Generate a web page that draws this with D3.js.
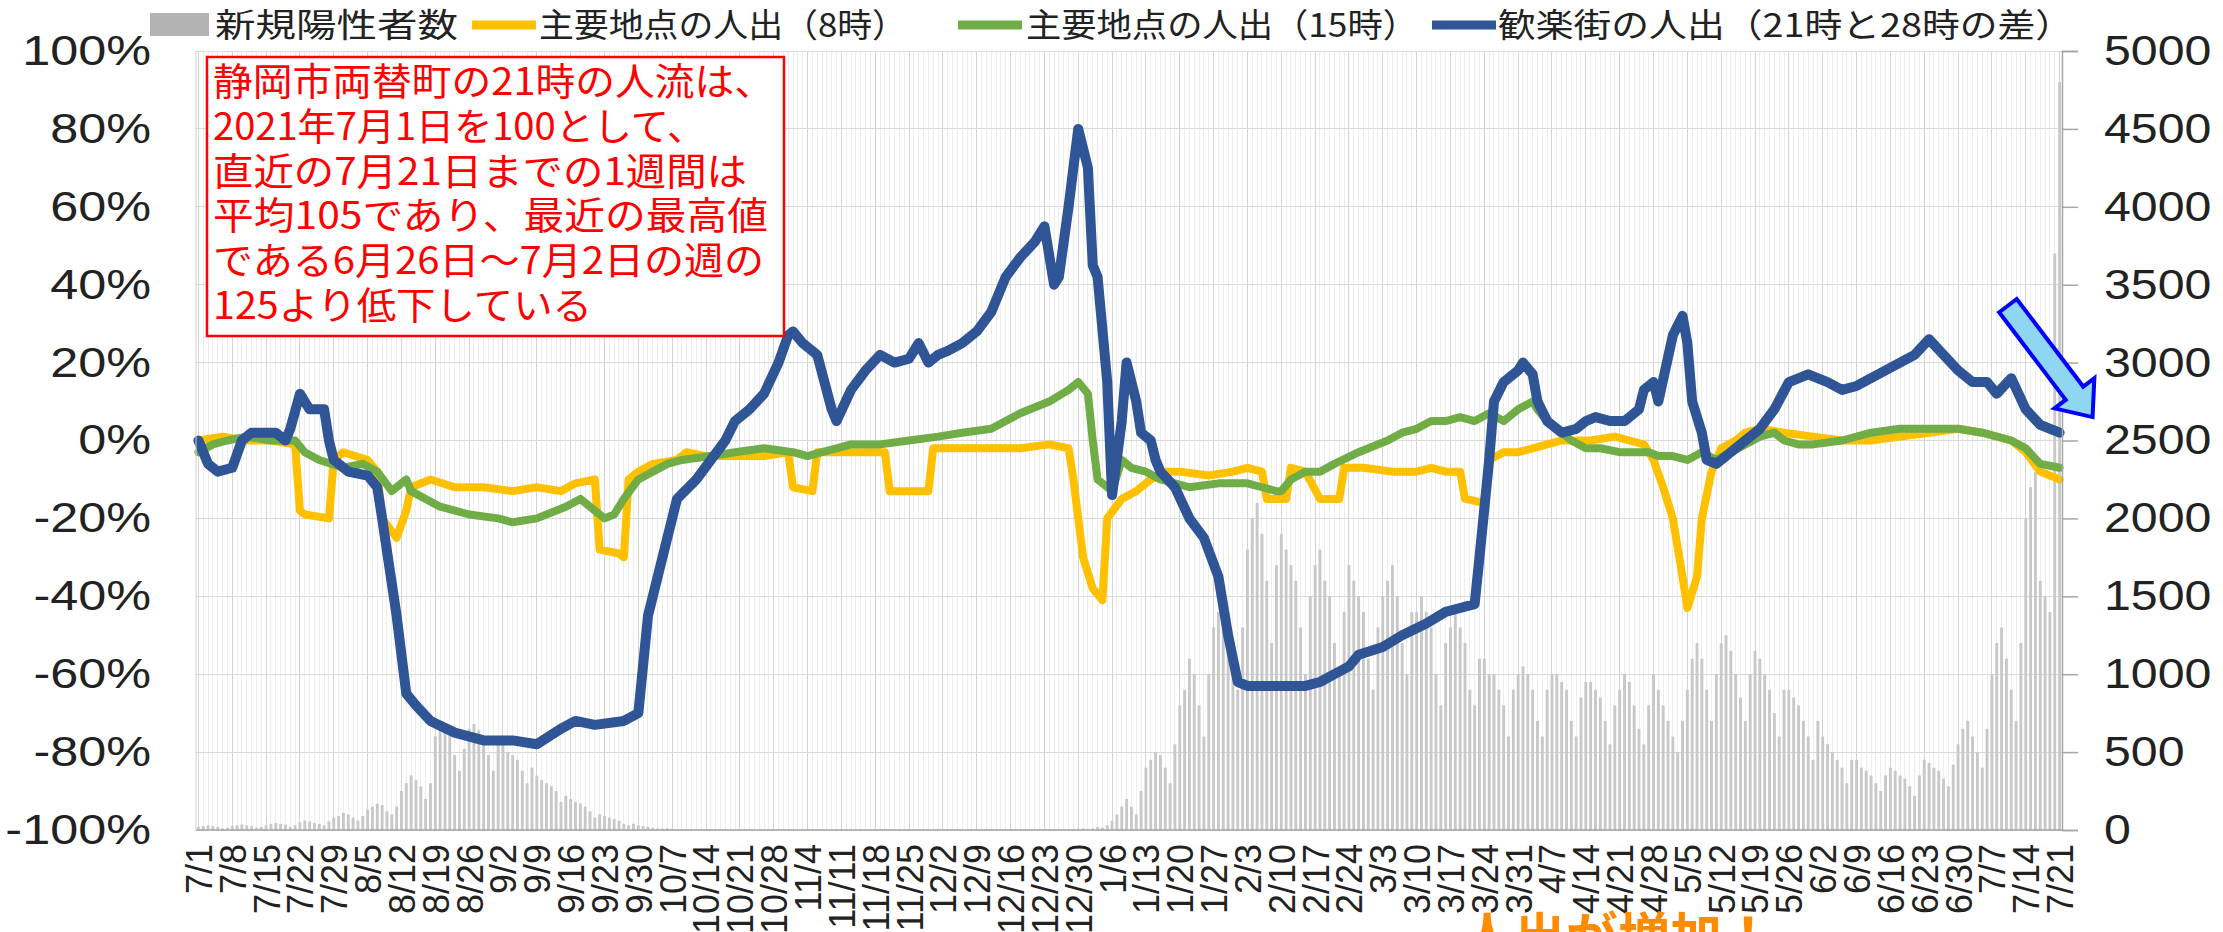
<!DOCTYPE html>
<html>
<head>
<meta charset="utf-8">
<script src="https://cdn.jsdelivr.net/npm/d3@7"></script>
<style>
  body { margin: 0; background: #fff; }
  text { font-family: "Liberation Sans", "Noto Sans CJK JP", sans-serif; }
  .jp { font-family: "Noto Sans CJK JP", sans-serif; }
</style>
</head>
<body>
<svg id="chart" width="2223" height="932"></svg>
<script>
// weekly tick labels, 7/1/2020 .. 7/21/2021
var tickLabels = ["7/1","7/8","7/15","7/22","7/29","8/5","8/12","8/19","8/26","9/2","9/9","9/16","9/23","9/30",
  "10/7","10/14","10/21","10/28","11/4","11/11","11/18","11/25","12/2","12/9","12/16","12/23","12/30",
  "1/6","1/13","1/20","1/27","2/3","2/10","2/17","2/24","3/3","3/10","3/17","3/24","3/31",
  "4/7","4/14","4/21","4/28","5/5","5/12","5/19","5/26","6/2","6/9","6/16","6/23","6/30","7/7","7/14","7/21"];

var seriesNames = ["新規陽性者数", "主要地点の人出（8時）", "主要地点の人出（15時）", "歓楽街の人出（21時と28時の差）"];

// daily new positive cases (right axis), one value per day from 7/1/2020
var cases = [
  20,25,30,25,20,10,15, 25,30,35,30,25,15,20, 30,40,45,40,35,20,30, 50,60,55,45,40,30,55,
  80,90,110,100,80,60,90, 130,150,170,160,120,100,150, 250,300,350,320,280,200,300,
  600,650,680,640,480,380,520, 650,680,640,600,480,380,560, 550,500,480,450,380,300,400,
  350,320,300,280,250,180,220, 200,180,170,150,120,80,100, 90,80,70,60,40,30,40,
  30,25,20,15,10,8,10, 8,6,6,5,4,3,5, 5,5,4,4,3,2,4, 4,5,4,3,3,2,3, 3,4,3,3,2,2,3,
  3,3,4,3,2,2,3, 4,3,3,3,2,2,3, 3,4,4,3,3,2,3, 4,4,3,3,3,2,3, 3,4,4,3,3,2,4,
  4,4,5,4,3,3,4, 5,4,5,4,3,3,5, 5,6,5,5,4,3,6, 8,10,6,10,20,15,30,
  60,100,150,200,150,100,250, 400,450,500,480,400,300,550, 800,900,1100,1000,800,600,1000,
  1300,1400,1500,1400,1100,900,1300, 1800,2000,2100,1900,1600,1200,1700,
  1900,1800,1700,1600,1300,1000,1500, 1700,1800,1600,1500,1200,1000,1400,
  1700,1600,1500,1400,1100,900,1300, 1500,1600,1700,1500,1200,1000,1400,
  1400,1500,1400,1300,1000,800,1200, 1300,1400,1300,1200,900,800,1100,
  1100,1000,1000,900,800,600,900, 1000,1050,1000,900,700,600,900,
  1000,1000,950,900,700,600,850, 950,950,900,850,700,550,800,
  900,1000,950,800,650,550,800, 1000,900,800,700,600,500,700,
  900,1100,1200,1100,900,700,1000, 1200,1250,1150,1000,850,700,1000,
  1150,1100,1000,900,750,600,900, 900,850,800,700,600,450,700,
  600,550,500,450,400,300,450, 450,400,380,350,300,250,350,
  400,380,350,330,280,220,350, 450,430,400,380,330,280,420,
  550,650,700,600,500,400,650, 1000,1200,1300,1100,900,700,1200,
  2000,2200,2300,1600,1500,1400,3700, 4800
];

// [day since 7/1/2020, %]
var line8 = [[0,0],[5,1],[10,0],[15,0],[20,-1],[21,-18],[22,-19],[27,-20],[28,-5],[30,-3],[35,-5],[37,-8],
  [38,-20],[41,-25],[43,-18],[44,-12],[48,-10],[53,-12],[59,-12],[65,-13],[70,-12],[75,-13],[78,-11],[82,-10],
  [83,-28],[87,-29],[88,-30],[89,-10],[91,-8],[94,-6],[99,-5],[101,-3],[105,-4],[111,-4],[117,-4],[122,-3],
  [123,-12],[127,-13],[128,-3],[135,-3],[142,-3],[143,-13],[151,-13],[152,-2],[158,-2],[164,-2],[170,-2],
  [176,-1],[180,-2],[181,-10],[183,-30],[185,-38],[187,-41],[188,-20],[191,-15],[194,-13],[197,-10],[200,-8],
  [203,-8],[209,-9],[214,-8],[217,-7],[220,-8],[221,-15],[225,-15],[226,-7],[229,-8],[232,-15],[236,-15],
  [237,-7],[241,-7],[247,-8],[252,-8],[255,-7],[258,-8],[261,-8],[262,-15],[266,-16],[267,-5],[270,-3],
  [273,-3],[276,-2],[279,-1],[282,0],[288,0],[293,1],[296,0],[299,-1],[301,-5],[303,-12],[305,-20],[307,-35],
  [308,-43],[310,-35],[311,-20],[313,-8],[315,-2],[318,0],[320,2],[323,3],[328,2],[334,1],[340,0],[346,0],
  [352,1],[358,2],[364,3],[369,2],[375,0],[378,-3],[381,-8],[385,-10]];

var line15 = [[0,-3],[3,-1],[6,0],[10,1],[15,0],[20,0],[22,-3],[25,-5],[30,-7],[34,-6],[37,-8],[40,-13],
  [43,-10],[44,-13],[47,-15],[50,-17],[56,-19],[62,-20],[65,-21],[70,-20],[76,-17],[79,-15],[82,-18],[84,-20],
  [86,-19],[88,-15],[91,-10],[94,-8],[97,-6],[100,-5],[106,-4],[111,-3],[117,-2],[123,-3],[126,-4],[129,-3],
  [132,-2],[135,-1],[141,-1],[147,0],[153,1],[158,2],[164,3],[167,5],[170,7],[176,10],[180,13],[182,15],
  [184,12],[185,0],[186,-10],[188,-12],[189,-13],[191,-5],[193,-7],[196,-8],[199,-10],[205,-12],[211,-11],
  [217,-11],[220,-12],[223,-13],[224,-13],[226,-10],[229,-8],[232,-8],[235,-6],[240,-3],[246,0],[249,2],
  [252,3],[255,5],[258,5],[261,6],[264,5],[267,7],[270,5],[273,8],[276,10],[277,8],[279,5],[282,2],[284,0],
  [287,-2],[290,-2],[294,-3],[297,-3],[300,-3],[302,-4],[305,-4],[308,-5],[311,-3],[314,-5],[317,-3],[320,-1],
  [323,1],[326,2],[328,0],[331,-1],[334,-1],[340,0],[346,2],[352,3],[358,3],[364,3],[369,2],[375,0],[378,-2],
  [381,-6],[385,-7]];

var line21 = [[0,0],[2,-6],[4,-8],[7,-7],[9,0],[11,2],[16,2],[18,0],[19,3],[21,12],[22,10],[23,8],[26,8],
  [27,0],[28,-5],[31,-8],[35,-9],[37,-12],[38,-20],[41,-45],[43,-65],[45,-68],[48,-72],[53,-75],[59,-77],
  [65,-77],[70,-78],[75,-74],[78,-72],[82,-73],[88,-72],[91,-70],[93,-45],[95,-35],[97,-25],[99,-15],[103,-10],
  [106,-5],[109,0],[111,5],[114,8],[117,12],[120,20],[122,27],[123,28],[125,25],[128,22],[131,8],[132,5],
  [135,13],[138,18],[141,22],[144,20],[147,21],[149,25],[151,20],[153,22],[155,23],[158,25],[161,28],[164,33],
  [167,42],[170,47],[173,51],[175,55],[177,40],[178,42],[180,60],[182,80],[184,70],[185,45],[186,42],[188,15],
  [189,-14],[191,5],[192,20],[194,10],[195,2],[197,0],[198,-5],[199,-8],[202,-12],[205,-20],[208,-25],[211,-35],
  [213,-50],[215,-62],[217,-63],[223,-63],[229,-63],[232,-62],[235,-60],[238,-58],[240,-55],[245,-53],[249,-50],
  [254,-47],[258,-44],[261,-43],[264,-42],[265,-30],[267,-5],[268,10],[270,15],[273,18],[274,20],[276,17],
  [277,10],[279,5],[282,2],[285,3],[287,5],[289,6],[292,5],[295,5],[298,8],[299,13],[301,15],[302,10],[305,27],
  [307,32],[308,25],[309,10],[311,2],[312,-5],[314,-6],[317,-3],[320,0],[323,3],[326,8],[329,15],[333,17],
  [337,15],[340,13],[343,14],[346,16],[349,18],[352,20],[355,22],[358,26],[361,22],[364,18],[367,15],
  [370,15],[372,12],[375,16],[378,8],[381,4],[385,2]];

var noteLines = ["静岡市両替町の21時の人流は、", "2021年7月1日を100として、", "直近の7月21日までの1週間は",
  "平均105であり、最近の最高値", "である6月26日～7月2日の週の", "125より低下している"];

var svg = d3.select("#chart"),
    margin = {top: 51, right: 161, bottom: 102, left: 196},
    width = 2223 - margin.left - margin.right,
    height = 932 - margin.top - margin.bottom;

var x = d3.scaleLinear().domain([-0.5, cases.length - 0.5]).range([0, width]),
    y = d3.scaleLinear().domain([-100, 100]).range([height, 0]),
    y2 = d3.scaleLinear().domain([0, 5000]).range([height, 0]);

var colors = {bar: "#c8c8c8", c8: "#ffc000", c15: "#70ad47", c21: "#2f5597"};

var g = svg.append("g").attr("transform", "translate(" + margin.left + "," + margin.top + ")");

// gridlines
g.append("g").selectAll("line").data(d3.range(cases.length)).enter().append("line")
    .attr("x1", function(d) { return x(d); }).attr("x2", function(d) { return x(d); })
    .attr("y1", 0).attr("y2", height)
    .attr("stroke", "#ededed").attr("shape-rendering", "crispEdges");
g.append("g").selectAll("line").data(d3.range(0, cases.length, 7)).enter().append("line")
    .attr("x1", function(d) { return x(d); }).attr("x2", function(d) { return x(d); })
    .attr("y1", 0).attr("y2", height)
    .attr("stroke", "#d4d4d4").attr("shape-rendering", "crispEdges");
g.append("g").selectAll("line").data(d3.range(-100, 101, 20)).enter().append("line")
    .attr("x1", 0).attr("x2", width)
    .attr("y1", function(d) { return y(d); }).attr("y2", function(d) { return y(d); })
    .attr("stroke", "#d9d9d9").attr("shape-rendering", "crispEdges");

// bars
var bw = (x(1) - x(0)) * 0.6;
g.append("g").selectAll("rect").data(cases).enter().append("rect")
    .attr("x", function(d, i) { return x(i) - bw / 2; })
    .attr("y", function(d) { return y2(d); })
    .attr("width", bw)
    .attr("height", function(d) { return height - y2(d); })
    .attr("fill", colors.bar);

// lines
var line = d3.line()
    .x(function(d) { return x(d[0]); })
    .y(function(d) { return y(d[1]); });

[[line8, colors.c8, 8], [line15, colors.c15, 8], [line21, colors.c21, 10]].forEach(function(s) {
  g.append("path")
      .datum(s[0])
      .attr("d", line)
      .attr("fill", "none")
      .attr("stroke", s[1])
      .attr("stroke-width", s[2])
      .attr("stroke-linejoin", "round")
      .attr("stroke-linecap", "round");
});

// axes
g.append("line").attr("x1", 0).attr("x2", width).attr("y1", height).attr("y2", height)
    .attr("stroke", "#a6a6a6").attr("stroke-width", 1.5);
g.append("line").attr("x1", 0).attr("x2", 0).attr("y1", 0).attr("y2", height)
    .attr("stroke", "#d0d0d0");

var yAxis = g.append("g")
    .call(d3.axisLeft(y).tickValues(d3.range(-100, 101, 20)).tickSize(0).tickPadding(0)
      .tickFormat(function(d) { return d + "%"; }));
yAxis.select(".domain").remove();
yAxis.selectAll("text")
    .attr("font-size", 42).attr("fill", "#222")
    .attr("x", -45 / 1.2)
    .attr("transform", "scale(1.2,1)");

var y2Axis = g.append("g")
    .attr("transform", "translate(" + width + ",0)")
    .call(d3.axisRight(y2).tickValues(d3.range(0, 5001, 500)).tickSize(16).tickPadding(0)
      .tickFormat(d3.format("d")));
y2Axis.select(".domain").attr("stroke", "#a6a6a6").attr("stroke-width", 1.5);
y2Axis.selectAll(".tick line").attr("stroke", "#a6a6a6").attr("stroke-width", 1.5);
y2Axis.selectAll("text")
    .attr("font-size", 42).attr("fill", "#222")
    .attr("x", 42 / 1.15)
    .attr("transform", "scale(1.15,1)");

var xAxis = g.append("g")
    .attr("transform", "translate(0," + height + ")")
    .call(d3.axisBottom(x).tickValues(d3.range(0, cases.length, 7)).tickSize(0)
      .tickFormat(function(d, i) { return tickLabels[i]; }));
xAxis.select(".domain").remove();
xAxis.selectAll("text")
    .attr("font-size", 36).attr("fill", "#222")
    .attr("transform", "rotate(-90)")
    .attr("x", -14).attr("y", 0).attr("dy", "0.36em")
    .style("text-anchor", "end");

// legend
var legend = svg.append("g").attr("class", "jp");
legend.append("rect").attr("x", 150).attr("y", 13).attr("width", 59).attr("height", 23).attr("fill", "#b3b3b3");
var legendItems = [
  {name: seriesNames[0], x: 215, w: 243},
  {name: seriesNames[1], x: 539, w: 368, c: colors.c8, lx: 472},
  {name: seriesNames[2], x: 1026, w: 392, c: colors.c15, lx: 958},
  {name: seriesNames[3], x: 1498, w: 575, c: colors.c21, lx: 1432}
];
legendItems.forEach(function(d) {
  if (d.c) {
    legend.append("line").attr("x1", d.lx).attr("x2", d.lx + 64).attr("y1", 25).attr("y2", 25)
        .attr("stroke", d.c).attr("stroke-width", 9);
  }
  legend.append("text").attr("class", "jp").attr("x", d.x).attr("y", 37)
      .attr("font-size", 33).attr("fill", "#222")
      .attr("textLength", d.w).attr("lengthAdjust", "spacingAndGlyphs")
      .text(d.name);
});

// note box
var note = svg.append("g");
note.append("rect").attr("x", 207).attr("y", 57).attr("width", 577).attr("height", 279)
    .attr("fill", "#fff").attr("stroke", "#ff0000").attr("stroke-width", 2.5);
var noteW = [561, 492, 534, 555, 551, 379];
noteLines.forEach(function(t, i) {
  note.append("text").attr("class", "jp")
      .attr("x", 213).attr("y", 95 + i * 44.8)
      .attr("font-size", 38).attr("fill", "#ff0000")
      .attr("textLength", noteW[i]).attr("lengthAdjust", "spacingAndGlyphs")
      .text(t);
});

// arrow pointing at the latest week
var tip = [margin.left + x(385) + 33, margin.top + y2(2650)],
    ang = Math.atan2(112, 85), len = 140, hw = 11, hh = 25, hl = 30;
var ux = Math.cos(ang), uy = Math.sin(ang), px = -uy, py = ux;
var base = [tip[0] - ux * hl, tip[1] - uy * hl], tail = [tip[0] - ux * len, tip[1] - uy * len];
var pts = [
  [tail[0] + px * hw, tail[1] + py * hw], [base[0] + px * hw, base[1] + py * hw],
  [base[0] + px * hh, base[1] + py * hh], tip,
  [base[0] - px * hh, base[1] - py * hh], [base[0] - px * hw, base[1] - py * hw],
  [tail[0] - px * hw, tail[1] - py * hw]
];
svg.append("path").attr("d", "M" + pts.join("L") + "Z")
    .attr("fill", "#8fd6f2").attr("stroke", "#0000ff").attr("stroke-width", 4)
    .attr("stroke-linejoin", "miter");

// partially visible caption at the bottom edge
svg.append("text").attr("class", "jp").attr("x", 1462).attr("y", 956)
    .attr("font-size", 52).attr("fill", "#ff8c00").attr("font-weight", "bold")
    .text("人出が増加！");
</script>
</body>
</html>
